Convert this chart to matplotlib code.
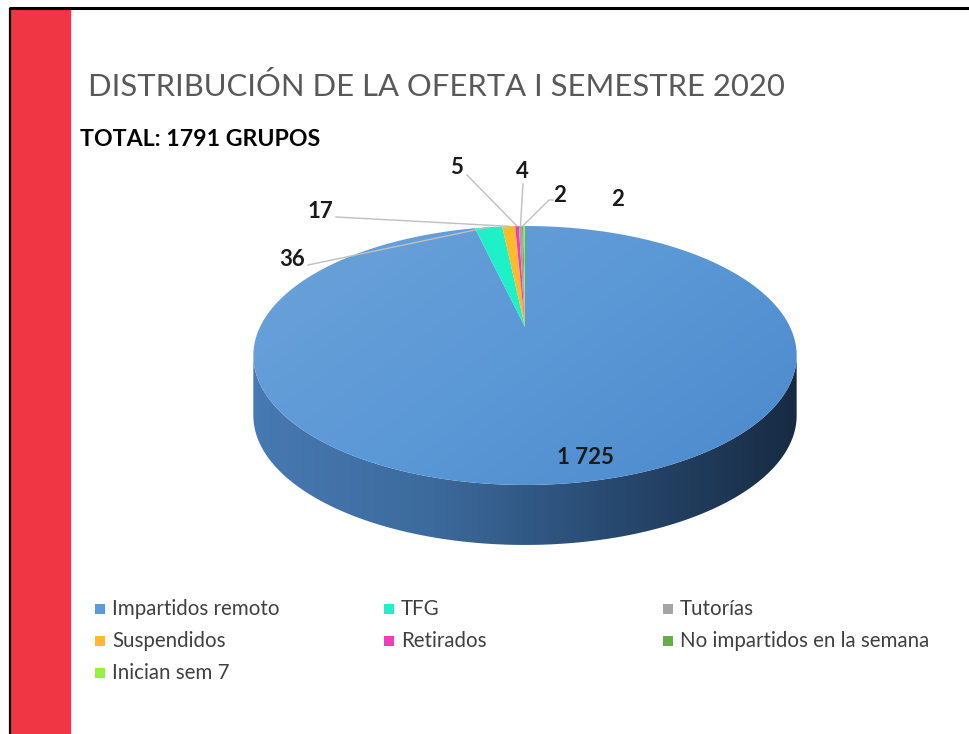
import numpy as np
import matplotlib
matplotlib.use("Agg")
import matplotlib.pyplot as plt
from matplotlib import font_manager
from matplotlib.patches import Polygon, Rectangle
from matplotlib.colors import LinearSegmentedColormap

# ---------------- data ----------------
title = "DISTRIBUCIÓN DE LA OFERTA I SEMESTRE 2020"
subtitle = "TOTAL: 1791 GRUPOS"
categories = ["Impartidos remoto", "TFG", "Tutorías", "Suspendidos",
              "Retirados", "No impartidos en la semana", "Inician sem 7"]
values = [1725, 36, 4, 17, 5, 2, 2]
colors = ["#5B9BD5", "#1EF0C8", "#A5A5A5", "#FDBA2C",
          "#F23BB6", "#6AAB4A", "#96F23C"]
# order in which the slices appear clockwise from 12 o'clock
slice_order = [0, 1, 3, 4, 2, 5, 6]
value_labels = ["1 725", "36", "4", "17", "5", "2", "2"]

# ---------------- figure ----------------
W, H = 969, 734
fig = plt.figure(figsize=(W / 100, H / 100), dpi=100)
ax = fig.add_axes([0, 0, 1, 1])
ax.set_xlim(0, W)
ax.set_ylim(H, 0)
ax.axis("off")
renderer = fig.canvas.get_renderer()

names = {f.name for f in font_manager.fontManager.ttflist}
NARROW = ["Liberation Sans Narrow", "Lato", "DejaVu Sans"] if "Liberation Sans Narrow" in names else ["Lato", "DejaVu Sans"]
FONT = ["Lato", "DejaVu Sans"]


def fit_text(x, y, s, width, size, **kw):
    t = ax.text(x, y, s, fontsize=size, **kw)
    w = t.get_window_extent(renderer).width
    t.set_fontsize(size * width / w)
    return t


# slide frame
ax.add_patch(Rectangle((11, 9), 59, H, color="#F03545", zorder=1))
ax.plot([9, W], [8, 8], color="black", lw=2.2, zorder=2, solid_capstyle="butt")
ax.plot([10, 10], [8, H], color="black", lw=1.6, zorder=2, solid_capstyle="butt")

fit_text(88, 87, title, 697, 24, color="#595959", family=NARROW,
         va="center", ha="left")
fit_text(80, 140, subtitle, 240, 15, color="black", family=NARROW,
         fontweight="bold", va="center", ha="left")

# ---------------- 3D pie ----------------
CX, CY, A, B, K, DEPTH = 525, 327, 265, 123.2, 0.22, 60


def proj(theta, dz=0.0):
    X = np.sin(theta)
    Z = np.cos(theta)
    s = 1.0 / (1.0 + K * Z)
    return CX + A * X * s, CY - B * Z * s + dz


# side (visible near half)
t1 = np.arccos(-K)
t2 = 2 * np.pi - t1
ts = np.linspace(t1, t2, 300)
xt, yt = proj(ts)
xb, yb = proj(ts[::-1], DEPTH)
side_poly = Polygon(np.column_stack([np.r_[xt, xb], np.r_[yt, yb]]),
                    closed=True, facecolor="none", edgecolor="none")
ax.add_patch(side_poly)
side_cmap = LinearSegmentedColormap.from_list(
    "side", ["#4779B2", "#3C6A9C", "#28496F", "#172B43"])
grad = np.linspace(0, 1, 256).reshape(1, -1)
im = ax.imshow(grad, cmap=side_cmap, extent=[xt.min(), xt.max(), yb.max() + 2, yt.min() - 2],
               aspect="auto", zorder=3, interpolation="bicubic")
im.set_clip_path(side_poly)

# top face slices
total = float(sum(values))
top_cmap = LinearSegmentedColormap.from_list("top", ["#6DA3DA", "#5B98D6", "#4A88CC"])
start = 0.0
mids = {}
for idx in slice_order:
    frac = values[idx] / total
    th = np.linspace(start, start + 2 * np.pi * frac, max(3, int(400 * frac)))
    px, py = proj(th)
    verts = np.column_stack([np.r_[CX, px], np.r_[CY, py]])
    mids[idx] = proj(start + np.pi * frac)
    if idx == 0:
        poly = Polygon(verts, closed=True, facecolor="none", edgecolor="none")
        ax.add_patch(poly)
        gx, gy = np.meshgrid(np.linspace(0, 1, 200), np.linspace(0, 1, 200))
        g = 0.6 * gx + 0.4 * gy
        im2 = ax.imshow(g, cmap=top_cmap, extent=[CX - A * 1.1, CX + A * 1.1, CY + 170, CY - 110],
                        aspect="auto", zorder=4, interpolation="bicubic")
        im2.set_clip_path(poly)
    else:
        ax.add_patch(Polygon(verts, closed=True, facecolor=colors[idx],
                             edgecolor="none", zorder=5))
    start += 2 * np.pi * frac

# ---------------- data labels ----------------
LINE = "#BFBFBF"
label_pos = {1: (292, 259), 3: (320, 211), 4: (457, 168), 2: (522, 172),
             5: (560, 196), 6: (618, 200), 0: (585, 458)}
line_start = {1: [(308, 265)], 3: [(336, 217)], 4: [(467, 175)],
              2: [(523, 184)], 5: [(553, 200), (549, 200)]}
for idx in slice_order:
    lx, ly = label_pos[idx]
    ax.text(lx, ly, value_labels[idx], fontsize=16, fontweight="bold",
            color="#1A1A1A", family=FONT, ha="center", va="center", zorder=7)
    if idx in line_start:
        pts = line_start[idx] + [mids[idx]]
        ax.plot([p[0] for p in pts], [p[1] for p in pts], color=LINE,
                lw=1.0, zorder=6)

# ---------------- legend ----------------
leg_pos = [(100, 609), (389, 609), (668, 609),
           (100, 641), (389, 641), (668, 641),
           (100, 673)]
for (x, y), cat, col in zip(leg_pos, categories, colors):
    ax.add_patch(Rectangle((x - 5, y - 5), 10, 10, facecolor=col,
                           edgecolor="none", zorder=5))
    ax.text(x + 12, y, cat, fontsize=14.8, color="#404040", family=NARROW,
            va="center", ha="left", zorder=5)

fig.savefig("out.png", dpi=100)
